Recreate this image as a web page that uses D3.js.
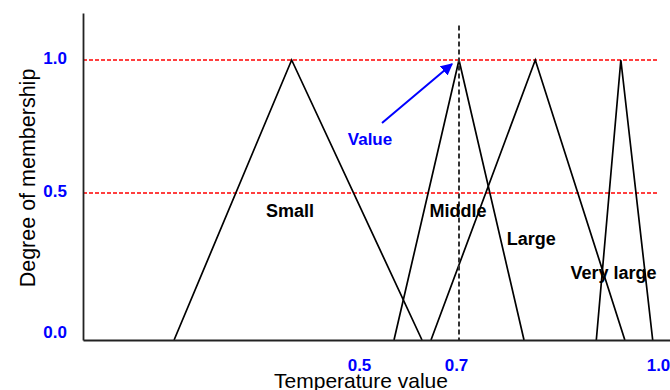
<!DOCTYPE html>
<html>
<head>
<meta charset="utf-8">
<script src="https://cdn.jsdelivr.net/npm/d3@7"></script>
<style>
  html, body { margin: 0; padding: 0; background: #fff; }
  svg { display: block; font-family: "Liberation Sans", Arial, sans-serif; }
</style>
</head>
<body>
<div id="chart"></div>
<script>
// Fuzzy sets: [left foot, peak, right foot] on the temperature axis
const setNames = ['Small', 'Middle', 'Large', 'Very large'];
const setFeetLeft = [0.165, 0.57, 0.644, 0.907];
const setPeaks = [0.378, 0.70, 0.815, 0.944];
const setFeetRight = [0.626, 0.798, 0.95, 0.992];

// label anchors (temperature, membership)
const labelX = [0.375, 0.698, 0.809, 0.933];
const labelY = [0.418, 0.418, 0.323, 0.207];

const xTicks = [0.5, 0.7, 1.0];
const yTicks = [0.0, 0.5, 1.0];
const refLevels = [0.5, 1.0];

const crispValue = 0.7;
const crispTop = 1.13;
const arrowFrom = [0.546, 0.763];
const arrowTo = [0.686, 0.985];

const W = 670, H = 390;

// hand-drawn axis: spacing is not uniform, so piecewise scales
const x = d3.scaleLinear()
  .domain([0, 0.5, 0.7, 1.0, 1.018])
  .range([83, 359, 459, 658, 670]);
const y = d3.scaleLinear()
  .domain([0, 0.5, 1.0, 1.177])
  .range([340, 193, 60, 13]);

const svg = d3.select('#chart').append('svg')
  .attr('width', W)
  .attr('height', H);

svg.append('defs').append('marker')
  .attr('id', 'arrow')
  .attr('viewBox', '0 0 10 10')
  .attr('refX', 9).attr('refY', 5)
  .attr('markerWidth', 6).attr('markerHeight', 6)
  .attr('markerUnits', 'strokeWidth')
  .attr('orient', 'auto')
  .append('path')
  .attr('d', 'M0,0 L10,5 L0,10 Z')
  .attr('fill', '#0000ff');

// red reference lines
svg.selectAll('.ref')
  .data(refLevels)
  .enter().append('line')
  .attr('x1', x(0)).attr('x2', 657)
  .attr('y1', d => y(d)).attr('y2', d => y(d))
  .attr('stroke', '#ff0000')
  .attr('stroke-width', 1.3)
  .attr('stroke-dasharray', '4,2');

// triangles
const tri = setNames.map((n, i) => [
  [setFeetLeft[i], 0], [setPeaks[i], 1], [setFeetRight[i], 0]
]);
svg.selectAll('.tri')
  .data(tri)
  .enter().append('path')
  .attr('d', d3.line().x(d => x(d[0])).y(d => y(d[1])))
  .attr('fill', 'none')
  .attr('stroke', '#000')
  .attr('stroke-width', 1.7)
  .attr('stroke-linejoin', 'miter');

// crisp value line
svg.append('line')
  .attr('x1', x(crispValue)).attr('x2', x(crispValue))
  .attr('y1', y(crispTop)).attr('y2', y(0))
  .attr('stroke', '#333')
  .attr('stroke-width', 2)
  .attr('stroke-dasharray', '5,3');

// axes
const gx = svg.append('g')
  .attr('transform', `translate(0,${y(0)})`)
  .call(d3.axisBottom(x).tickValues(xTicks).tickSize(0).tickPadding(19).tickFormat(d3.format('.1f')));
gx.select('.domain').attr('stroke', '#222').attr('stroke-width', 1.8);
gx.selectAll('text')
  .attr('font-size', '17px').attr('font-weight', 'bold')
  .attr('fill', '#0000ff')
  .attr('font-family', '"Liberation Sans", Arial, sans-serif')
  .attr('dx', d => d === 0.7 ? '-3px' : 0);

const gy = svg.append('g')
  .attr('transform', `translate(${x(0)},0)`)
  .call(d3.axisLeft(y).tickValues(yTicks).tickSize(0).tickPadding(16).tickFormat(d3.format('.1f')));
gy.select('.domain').attr('stroke', '#222').attr('stroke-width', 1.8);
gy.selectAll('text')
  .attr('font-size', '17px').attr('font-weight', 'bold')
  .attr('fill', '#0000ff')
  .attr('font-family', '"Liberation Sans", Arial, sans-serif')
  .attr('y', d => d === 0 ? -8 : -2);

// set labels
svg.selectAll('.lab')
  .data(setNames)
  .enter().append('text')
  .attr('x', (d, i) => x(labelX[i]))
  .attr('y', (d, i) => y(labelY[i]))
  .attr('text-anchor', 'middle')
  .attr('font-size', '18px')
  .attr('font-weight', 'bold')
  .attr('fill', '#000')
  .text(d => d);

// value annotation
svg.append('line')
  .attr('x1', x(arrowFrom[0])).attr('y1', y(arrowFrom[1]))
  .attr('x2', x(arrowTo[0])).attr('y2', y(arrowTo[1]))
  .attr('stroke', '#0000ff')
  .attr('stroke-width', 2)
  .attr('marker-end', 'url(#arrow)');
svg.append('text')
  .attr('x', 370).attr('y', 145)
  .attr('text-anchor', 'middle')
  .attr('font-size', '17px')
  .attr('font-weight', 'bold')
  .attr('fill', '#0000ff')
  .text('Value');

// axis titles
svg.append('text')
  .attr('x', 361).attr('y', 388)
  .attr('text-anchor', 'middle')
  .attr('font-size', '21px')
  .attr('fill', '#000')
  .text('Temperature value');
svg.append('text')
  .attr('transform', 'translate(35,178) rotate(-90)')
  .attr('text-anchor', 'middle')
  .attr('font-size', '21.5px')
  .attr('fill', '#000')
  .text('Degree of membership');
</script>
</body>
</html>
